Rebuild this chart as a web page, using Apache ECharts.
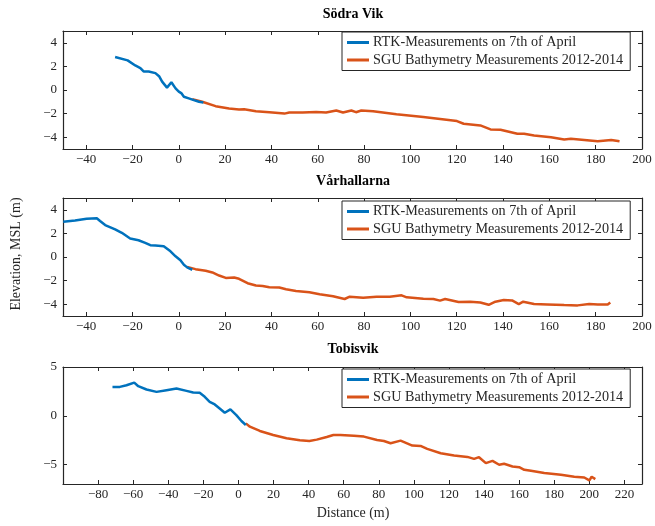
<!DOCTYPE html>
<html>
<head>
<meta charset="utf-8">
<script src="https://cdn.jsdelivr.net/npm/echarts@6/dist/echarts.min.js"></script>
<style>html,body{margin:0;padding:0;background:#fff;}#c{width:655px;height:526px;}</style>
</head>
<body>
<div id="c"></div>
<script>
// ---- Data ----
const titles = ['Södra Vik', 'Vårhallarna', 'Tobisvik'];
const seriesNames = ['RTK-Measurements on 7th of April', 'SGU Bathymetry Measurements 2012-2014'];

const sodraRtkX = [-27.5, -22.1, -18.8, -16.6, -15.2, -13.0, -10.1, -8.4, -7.2, -5.1, -3.2, -1.4, 0.0, 1.2, 2.2, 4.3, 6.5, 8.7, 10.6];
const sodraRtkY = [2.80, 2.51, 2.08, 1.86, 1.57, 1.57, 1.43, 1.14, 0.71, 0.20, 0.66, 0.14, -0.14, -0.29, -0.57, -0.71, -0.86, -1.00, -1.06];
const sodraSguX = [5.8, 10.1, 15.9, 21.7, 26.0, 28.2, 33.3, 39.1, 45.6, 47.7, 53.5, 59.3, 63.6, 68.0, 70.9, 74.5, 76.5, 78.8, 83.9, 94.0, 105.6, 120.1, 123.0, 130.2, 134.6, 138.9, 146.2, 149.1, 153.4, 160.7, 166.4, 169.3, 175.1, 180.9, 186.7, 190.3];
const sodraSguY = [-0.77, -1.00, -1.37, -1.57, -1.66, -1.63, -1.80, -1.89, -2.00, -1.91, -1.91, -1.86, -1.91, -1.74, -1.91, -1.74, -1.88, -1.74, -1.80, -2.06, -2.29, -2.63, -2.86, -3.00, -3.34, -3.37, -3.71, -3.71, -3.86, -4.00, -4.20, -4.14, -4.23, -4.34, -4.23, -4.34];

const varhRtkX = [-49.9, -44.8, -39.8, -35.4, -34.0, -31.8, -27.5, -24.6, -21.0, -17.4, -14.5, -12.3, -10.1, -6.5, -3.6, -1.4, 0.7, 2.2, 3.6, 5.8];
const varhRtkY = [2.99, 3.10, 3.25, 3.28, 3.05, 2.71, 2.34, 2.05, 1.57, 1.42, 1.20, 1.00, 0.97, 0.91, 0.48, 0.06, -0.28, -0.66, -0.88, -1.08];
const varhSguX = [3.6, 7.2, 11.6, 14.5, 17.4, 20.3, 23.9, 26.0, 29.7, 33.3, 36.2, 39.1, 43.4, 46.3, 50.6, 56.4, 60.8, 66.6, 71.6, 73.8, 79.6, 85.4, 91.1, 96.2, 98.4, 105.6, 109.9, 112.8, 115.0, 120.8, 125.8, 130.2, 133.8, 136.7, 140.3, 143.9, 146.8, 148.7, 153.4, 159.1, 166.4, 172.2, 177.2, 180.9, 185.2, 186.3];
const varhSguY = [-0.85, -1.03, -1.17, -1.31, -1.57, -1.77, -1.74, -1.85, -2.22, -2.42, -2.45, -2.56, -2.59, -2.74, -2.88, -2.99, -3.16, -3.33, -3.56, -3.36, -3.45, -3.36, -3.36, -3.25, -3.42, -3.53, -3.56, -3.70, -3.56, -3.82, -3.79, -3.85, -4.05, -3.79, -3.65, -3.68, -3.99, -3.79, -3.99, -4.02, -4.07, -4.10, -3.99, -4.02, -4.02, -3.85];

const tobiRtkX = [-71.8, -67.6, -63.8, -59.4, -57.1, -52.4, -46.7, -41.0, -35.3, -29.6, -25.8, -22.1, -19.2, -16.4, -13.5, -10.7, -7.8, -4.6, -1.2, 1.7, 4.2];
const tobiRtkY = [2.96, 2.96, 3.13, 3.40, 3.03, 2.69, 2.45, 2.62, 2.79, 2.55, 2.38, 2.35, 1.94, 1.43, 1.16, 0.75, 0.31, 0.65, 0.07, -0.54, -0.95];
const tobiSguX = [4.2, 6.5, 12.2, 19.8, 27.4, 35.0, 40.4, 44.6, 50.3, 54.1, 58.1, 65.8, 71.5, 79.0, 82.9, 86.7, 92.4, 99.1, 103.8, 107.6, 115.3, 122.9, 130.5, 134.3, 137.1, 141.0, 144.8, 148.6, 151.4, 156.2, 160.0, 162.9, 166.7, 174.3, 183.8, 191.4, 197.1, 200.0, 201.3, 203.4];
const tobiSguY = [-0.78, -1.12, -1.56, -1.97, -2.31, -2.52, -2.59, -2.45, -2.18, -1.97, -1.97, -2.04, -2.14, -2.48, -2.59, -2.82, -2.55, -3.06, -3.10, -3.40, -3.84, -4.08, -4.22, -4.42, -4.25, -4.86, -4.63, -5.03, -4.93, -5.20, -5.27, -5.54, -5.65, -5.88, -6.05, -6.26, -6.33, -6.63, -6.26, -6.50];

const xTicksAB = [-40, -20, 0, 20, 40, 60, 80, 100, 120, 140, 160, 180, 200];
const xTicksC = [-80, -60, -40, -20, 0, 20, 40, 60, 80, 100, 120, 140, 160, 180, 200, 220];
const yTicksAB = [-4, -2, 0, 2, 4];
const yTicksC = [-5, 0, 5];
const xRanges = [[-50, 200], [-50, 200], [-100, 230]];
const yRanges = [[-5, 5], [-5, 5], [-7, 5]];

// ---- Chart ----
const FONT = 'Liberation Serif';
const INK = '#262626';
const BLUE = '#0072BD', ORANGE = '#D95319';
const zip = (xs, ys) => xs.map((x, i) => [x, ys[i]]);
const fmt = v => String(v).replace('-', '\u2212');

const grids = [
  {left: 63, top: 31, width: 579, height: 118},
  {left: 63, top: 198, width: 579, height: 118},
  {left: 63, top: 367, width: 579, height: 117}
];
const xTickSets = [xTicksAB, xTicksAB, xTicksC];
const yTickSets = [yTicksAB, yTicksAB, yTicksC];

const xAxis = [], yAxis = [];
for (let g = 0; g < 3; g++) {
  const base = {
    type: 'value', gridIndex: g, min: xRanges[g][0], max: xRanges[g][1],
    splitLine: {show: false},
    axisLine: {show: true, onZero: false, lineStyle: {color: INK, width: 1.2}},
    axisTick: {show: true, inside: true, length: 4, customValues: xTickSets[g], lineStyle: {color: INK}}
  };
  xAxis.push(Object.assign({}, base, {position: 'bottom',
    axisLabel: {show: true, customValues: xTickSets[g], formatter: fmt, color: INK, fontFamily: FONT, fontSize: 13, margin: 4}}));
  xAxis.push(Object.assign({}, base, {position: 'top', axisLabel: {show: false}}));
  const ybase = {
    type: 'value', gridIndex: g, min: yRanges[g][0], max: yRanges[g][1],
    splitLine: {show: false},
    axisLine: {show: true, onZero: false, lineStyle: {color: INK, width: 1.2}},
    axisTick: {show: true, inside: true, length: 4, customValues: yTickSets[g], lineStyle: {color: INK}}
  };
  yAxis.push(Object.assign({}, ybase, {position: 'left',
    axisLabel: {show: true, customValues: yTickSets[g], formatter: fmt, color: INK, fontFamily: FONT, fontSize: 13, margin: 6}}));
  yAxis.push(Object.assign({}, ybase, {position: 'right', axisLabel: {show: false}}));
}

const dataSets = [
  [zip(sodraRtkX, sodraRtkY), zip(sodraSguX, sodraSguY)],
  [zip(varhRtkX, varhRtkY), zip(varhSguX, varhSguY)],
  [zip(tobiRtkX, tobiRtkY), zip(tobiSguX, tobiSguY)]
];
const series = [];
for (let g = 0; g < 3; g++) {
  [0, 1].forEach(k => {
    series.push({
      name: seriesNames[k], type: 'line', xAxisIndex: g * 2, yAxisIndex: g * 2,
      data: dataSets[g][k], showSymbol: false, symbol: 'none',
      lineStyle: {width: 2.5, color: k === 0 ? BLUE : ORANGE},
      itemStyle: {color: k === 0 ? BLUE : ORANGE},
      z: k === 0 ? 3 : 2
    });
  });
}

const legendTops = [32, 201, 369];
const legend = legendTops.map(t => ({
  data: seriesNames, orient: 'vertical', left: 342, top: t,
  icon: 'rect', itemWidth: 22, itemHeight: 3, itemGap: 3.5,
  padding: [3.5, 7, 3.5, 5],
  borderColor: INK, borderWidth: 1, backgroundColor: '#fff',
  textStyle: {fontFamily: FONT, fontSize: 14.2, color: INK, padding: [0, 0, 0, -1]},
  selectedMode: false
}));

const titleY = [14, 181, 349];
const graphic = titles.map((t, i) => ({
  type: 'text', x: 353, y: titleY[i],
  style: {text: t, font: 'bold 14px "Liberation Serif"', fill: '#000', textAlign: 'center', textVerticalAlign: 'middle'}
}));
graphic.push({type: 'text', x: 353, y: 513,
  style: {text: 'Distance (m)', font: '14px "Liberation Serif"', fill: INK, textAlign: 'center', textVerticalAlign: 'middle'}});
graphic.push({type: 'text', x: 16, y: 254, rotation: Math.PI / 2,
  style: {text: 'Elevation, MSL (m)', font: '14px "Liberation Serif"', fill: INK, textAlign: 'center', textVerticalAlign: 'middle'}});

const chart = echarts.init(document.getElementById('c'), null, {renderer: 'canvas'});
chart.setOption({
  animation: false,
  backgroundColor: '#fff',
  grid: grids,
  xAxis: xAxis,
  yAxis: yAxis,
  series: series,
  legend: legend,
  graphic: graphic
});
</script>
</body>
</html>
